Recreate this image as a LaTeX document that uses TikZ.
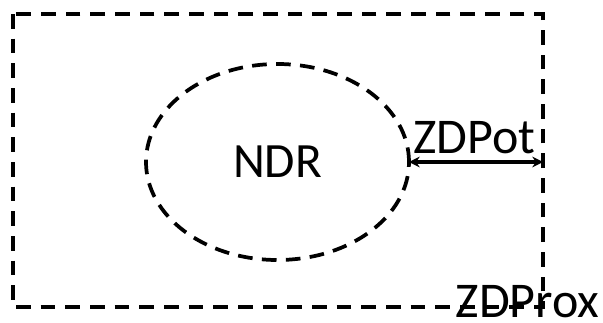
\documentclass[tikz,border=0pt]{standalone}
\usepackage{fontspec}
\setmainfont{Carlito}
\usetikzlibrary{arrows.meta,shapes.geometric,calc}
\begin{document}
\begin{tikzpicture}[x=0.75pt,y=-0.75pt,
  dashline/.style={draw=black,line width=2.8pt,dash pattern=on 11pt off 7pt},
  boxline/.style={draw=black,line width=3pt,dash pattern=on 11pt off 7.5pt},
  lbl/.style={font=\fontsize{37.5}{40}\selectfont,inner sep=0pt,anchor=base},
  dimarrow/.style={{Stealth[length=8pt,width=8pt]}-{Stealth[length=8pt,width=8pt]},line width=2.6pt}]
\useasboundingbox (0,0) rectangle (603,322);
\coordinate (boxNW) at (13,14);
\coordinate (boxSE) at (543,307);
\draw[boxline] (boxNW) rectangle (boxSE);
\node[dashline,ellipse,minimum width=197.25pt,minimum height=147pt,inner sep=0pt,outer sep=0pt,font=\fontsize{37}{40}\selectfont] (ndr) at (277.5,162) {NDR};
\coordinate (arrend) at (ndr.east -| boxSE);
\draw[dimarrow] (ndr.east) -- (arrend);
\node[lbl] (zdpot) at (474.5,153) {ZDPot};
\node[lbl] (zdprox) at (527.5,317) {ZDProx};
\end{tikzpicture}
\end{document}
